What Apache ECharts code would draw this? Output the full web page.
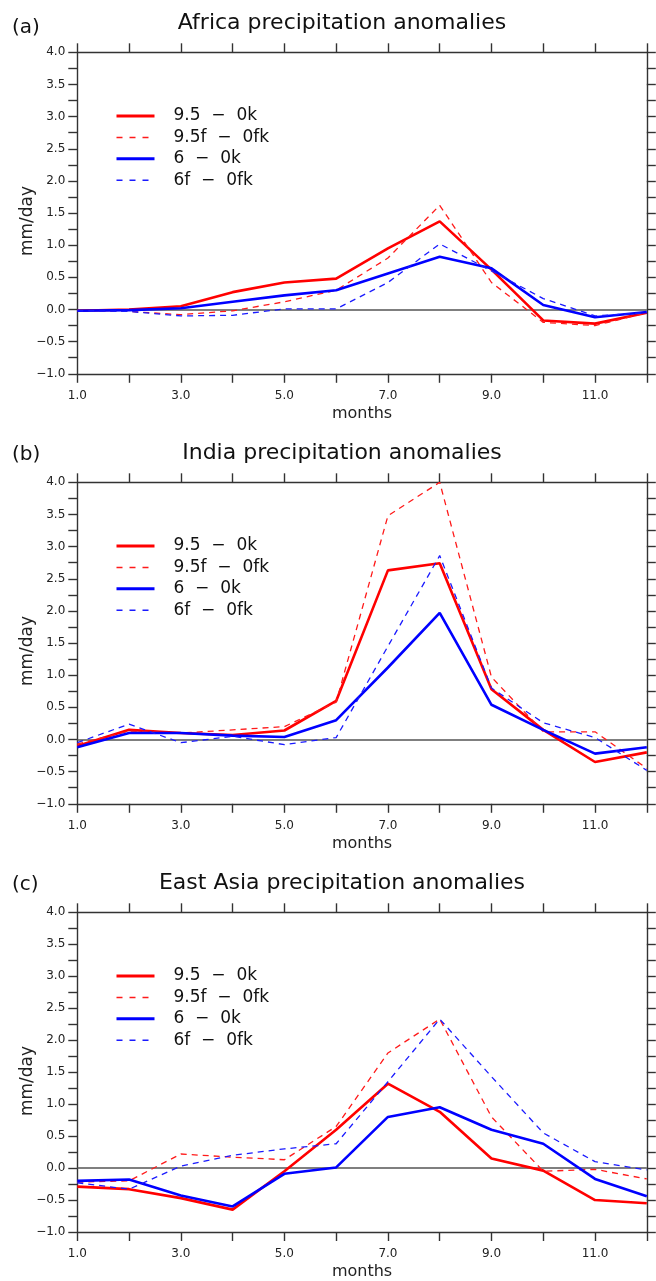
<!DOCTYPE html>
<html>
<head>
<meta charset="utf-8">
<script src="https://cdn.jsdelivr.net/npm/echarts@6/dist/echarts.min.js"></script>
<style>
html,body{margin:0;padding:0;background:#fff;}
#c{width:656px;height:1281px;}
</style>
</head>
<body>
<div id="c"></div>
<script>
const months = [1,2,3,4,5,6,7,8,9,10,11,12];
const seriesNames = ['9.5  \u2212  0k', '9.5f  \u2212  0fk', '6  \u2212  0k', '6f  \u2212  0fk'];
const panelTitles = ['Africa precipitation anomalies', 'India precipitation anomalies', 'East Asia precipitation anomalies'];
const panelLabels = ['(a)', '(b)', '(c)'];
const xTickLabels = ['1.0','','3.0','','5.0','','7.0','','9.0','','11.0',''];
const yAxisTitle = 'mm/day';
const xAxisTitle = 'months';
const yMin = -1, yMax = 4, yStep = 0.25;

// (a) Africa
const africa_95_0k   = [-0.02, 0.00, 0.05, 0.27, 0.42, 0.48, 0.95, 1.37, 0.62, -0.17, -0.22, -0.05];
const africa_95f_0fk = [-0.02, -0.03, -0.08, -0.02, 0.12, 0.30, 0.80, 1.62, 0.42, -0.20, -0.25, -0.05];
const africa_6_0k    = [-0.02, -0.01, 0.02, 0.12, 0.22, 0.30, 0.56, 0.82, 0.64, 0.07, -0.12, -0.04];
const africa_6f_0fk  = [-0.02, -0.03, -0.10, -0.09, 0.01, 0.01, 0.42, 1.02, 0.60, 0.17, -0.10, -0.05];
// (b) India
const india_95_0k   = [-0.10, 0.15, 0.10, 0.07, 0.14, 0.60, 2.63, 2.74, 0.78, 0.15, -0.35, -0.20];
const india_95f_0fk = [-0.07, 0.13, 0.10, 0.15, 0.20, 0.58, 3.48, 4.00, 0.97, 0.12, 0.12, -0.45];
const india_6_0k    = [-0.12, 0.10, 0.10, 0.06, 0.04, 0.30, 1.12, 1.97, 0.54, 0.15, -0.22, -0.12];
const india_6f_0fk  = [-0.05, 0.24, -0.05, 0.05, -0.08, 0.03, 1.45, 2.86, 0.80, 0.26, 0.03, -0.48];
// (c) East Asia
const easia_95_0k   = [-0.29, -0.33, -0.47, -0.65, -0.05, 0.60, 1.32, 0.88, 0.15, -0.04, -0.50, -0.55];
const easia_95f_0fk = [-0.22, -0.20, 0.22, 0.17, 0.13, 0.65, 1.80, 2.33, 0.80, -0.05, -0.02, -0.17];
const easia_6_0k    = [-0.20, -0.18, -0.43, -0.60, -0.09, 0.01, 0.80, 0.95, 0.60, 0.38, -0.17, -0.44];
const easia_6f_0fk  = [-0.23, -0.33, 0.03, 0.20, 0.30, 0.38, 1.35, 2.33, 1.43, 0.55, 0.10, -0.03];

const panels = [
  [africa_95_0k, africa_95f_0fk, africa_6_0k, africa_6f_0fk],
  [india_95_0k, india_95f_0fk, india_6_0k, india_6f_0fk],
  [easia_95_0k, easia_95f_0fk, easia_6_0k, easia_6f_0fk]
];

const FONT = 'DejaVu Sans';
const AX = '#333';
const gridTops = [52.3, 482.3, 912.3];
const gridH = 321.5;
const gridL = 77.3, gridW = 569.5;
const styles = [
  {color:'#ff0000', width:2.6, type:'solid'},
  {color:'#ff1a1a', width:1.3, type:[6,5]},
  {color:'#0000ff', width:2.6, type:'solid'},
  {color:'#1a1aff', width:1.3, type:[6,5]}
];

const grid = [], xAxis = [], yAxis = [], series = [], legend = [], graphic = [];
const axLine = {show:true, onZero:false, lineStyle:{color:AX, width:1.4}};
const axTick = {show:true, inside:false, length:9, lineStyle:{color:AX, width:1.4}};

gridTops.forEach((top, p) => {
  grid.push({left:gridL, top:top, width:gridW, height:gridH, containLabel:false});
  xAxis.push({
    type:'value', gridIndex:p, min:1, max:12, interval:1, position:'bottom',
    axisLine:axLine, axisTick:axTick, splitLine:{show:false},
    axisLabel:{margin:16, fontFamily:FONT, fontSize:12, color:'#222',
      formatter:(v)=>{const i = months.indexOf(v); return i>=0 ? xTickLabels[i] : '';}},
    name:xAxisTitle, nameLocation:'middle', nameGap:32,
    nameTextStyle:{fontFamily:FONT, fontSize:16, color:'#222'}
  });
  xAxis.push({
    type:'value', gridIndex:p, min:1, max:12, interval:1, position:'top',
    axisLine:axLine, axisTick:axTick, splitLine:{show:false}, axisLabel:{show:false}
  });
  yAxis.push({
    type:'value', gridIndex:p, min:yMin, max:yMax, interval:yStep, position:'left',
    axisLine:axLine, axisTick:axTick, splitLine:{show:false},
    axisLabel:{margin:12, fontFamily:FONT, fontSize:12, color:'#222',
      formatter:(v)=>{ if (Math.abs(v*2 - Math.round(v*2))>1e-6) return ''; const s = Math.abs(v).toFixed(1); return v < 0 ? '\u2212'+s : s; }}
  });
  yAxis.push({
    type:'value', gridIndex:p, min:yMin, max:yMax, interval:yStep, position:'right',
    axisLine:axLine, axisTick:axTick, splitLine:{show:false}, axisLabel:{show:false}
  });

  panels[p].forEach((vals, k) => {
    const s = {
      name: seriesNames[k], type:'line', xAxisIndex:2*p, yAxisIndex:2*p,
      data: months.map((m,i)=>[m, vals[i]]),
      symbol:'none', showSymbol:false, silent:true, animation:false,
      lineStyle: {color:styles[k].color, width:styles[k].width, type:styles[k].type},
      itemStyle: {color:styles[k].color},
      z: 3
    };
    if (k === 0) {
      s.markLine = {silent:true, symbol:'none', animation:false, label:{show:false},
        lineStyle:{color:'#555', width:1.5, type:'solid'}, data:[{yAxis:0}], z:2};
    }
    series.push(s);
  });

  legend.push({
    show:true, orient:'vertical', left:115, top: top + 63.7 - 10, padding:0,
    itemWidth:38, itemHeight:12, itemGap:1.4, selectedMode:false,
    itemStyle:{opacity:0, borderWidth:0},
    data: seriesNames.map((n,k)=>({name:n,
      itemStyle:{opacity:0, borderWidth:0, color:'rgba(0,0,0,0)'},
      lineStyle:{color:styles[k].color, width: k%2===0 ? 3 : 1.5, type: k%2===0 ? 'solid' : [6,7], opacity:1}})),
    textStyle:{fontFamily:FONT, fontSize:17, color:'#111', lineHeight:20, padding:[0,0,0,14]}
  });

  graphic.push({type:'text', x:342, y:[23,453,883][p], silent:true,
    style:{text:panelTitles[p], font:'22px "DejaVu Sans"', fill:'#111', textAlign:'center', textVerticalAlign:'middle'}});
  graphic.push({type:'text', x:12, y:[28,455,885][p], silent:true,
    style:{text:panelLabels[p], font:'20px "DejaVu Sans"', fill:'#111', textAlign:'left', textVerticalAlign:'middle'}});
  graphic.push({type:'text', x:28, y: top + gridH/2 + 8, rotation: Math.PI/2, silent:true,
    style:{text:yAxisTitle, font:'17px "DejaVu Sans"', fill:'#222', textAlign:'center', textVerticalAlign:'middle'}});
});

const chart = echarts.init(document.getElementById('c'), null, {renderer:'canvas'});
chart.setOption({
  animation:false,
  backgroundColor:'#fff',
  grid, xAxis, yAxis, series, legend, graphic
});
</script>
</body>
</html>
